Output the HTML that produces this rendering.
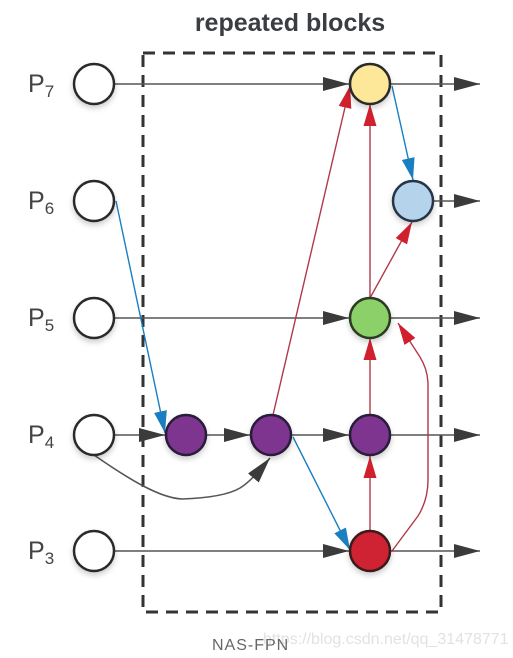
<!DOCTYPE html>
<html><head><meta charset="utf-8"><style>
html,body{margin:0;padding:0;background:#fff;}
svg{display:block;}
text{font-family:"Liberation Sans",sans-serif;}
</style></head><body>
<svg width="513" height="658" viewBox="0 0 513 658">
<defs>
<marker id="ak" viewBox="0 0 10 10" refX="10" refY="5" markerWidth="8" markerHeight="8" markerUnits="userSpaceOnUse" orient="auto"><path d="M0,0L10,5L0,10z" fill="#3b3b3b"/></marker>
<marker id="akb" viewBox="0 0 10 10" refX="10" refY="5" markerWidth="26" markerHeight="14" markerUnits="userSpaceOnUse" orient="auto" preserveAspectRatio="none"><path d="M0,0L10,5L0,10z" fill="#3b3b3b"/></marker>
<marker id="ar" viewBox="0 0 10 10" refX="10" refY="5" markerWidth="22" markerHeight="13" markerUnits="userSpaceOnUse" orient="auto" preserveAspectRatio="none"><path d="M0,0L10,5L0,10z" fill="#d0202e"/></marker>
<marker id="ab" viewBox="0 0 10 10" refX="10" refY="5" markerWidth="22" markerHeight="13" markerUnits="userSpaceOnUse" orient="auto" preserveAspectRatio="none"><path d="M0,0L10,5L0,10z" fill="#1a7fc0"/></marker>
<filter id="sh" x="-50%" y="-50%" width="200%" height="200%"><feDropShadow dx="0" dy="3" stdDeviation="3" flood-color="#000" flood-opacity="0.2"/></filter>
</defs>
<text x="290" y="31" font-size="25" font-weight="bold" fill="#3a3d42" text-anchor="middle">repeated blocks</text>
<rect x="143" y="53" width="298" height="559" fill="none" stroke="#333" stroke-width="3" stroke-dasharray="12,8"/>

<g stroke="#555" stroke-width="1.6" fill="none">
<line x1="114" y1="84" x2="349" y2="84" marker-end="url(#akb)"/>
<line x1="390" y1="84" x2="480" y2="84" marker-end="url(#akb)"/>
<line x1="433" y1="201" x2="480" y2="201" marker-end="url(#akb)"/>
<line x1="114" y1="318" x2="349" y2="318" marker-end="url(#akb)"/>
<line x1="390" y1="318" x2="480" y2="318" marker-end="url(#akb)"/>
<line x1="114" y1="435" x2="165" y2="435" marker-end="url(#akb)"/>
<line x1="206" y1="435" x2="250" y2="435" marker-end="url(#akb)"/>
<line x1="291" y1="435" x2="349" y2="435" marker-end="url(#akb)"/>
<line x1="390" y1="435" x2="480" y2="435" marker-end="url(#akb)"/>
<line x1="114" y1="551" x2="349" y2="551" marker-end="url(#akb)"/>
<line x1="390" y1="551" x2="480" y2="551" marker-end="url(#akb)"/>
<path d="M94,455 C130,480 160,498 182,499 C210,498 230,494 240,488 C250,482 260,470 270,458" marker-end="url(#akb)"/>
</g>
<g stroke="#b03a4a" stroke-width="1.4" fill="none">
<line x1="273" y1="415" x2="350" y2="86" marker-end="url(#ar)"/>
<line x1="370" y1="298" x2="370" y2="104" marker-end="url(#ar)"/>
<line x1="370" y1="298" x2="412" y2="222" marker-end="url(#ar)"/>
<line x1="370" y1="415" x2="370" y2="338" marker-end="url(#ar)"/>
<line x1="370" y1="531" x2="370" y2="456" marker-end="url(#ar)"/>
<path d="M392,551 L418,516 Q428,500 428,480 L428,385 Q428,370 420,357 L398,323" marker-end="url(#ar)"/>
</g>
<g stroke="#1a7fc0" stroke-width="1.4" fill="none">
<line x1="116" y1="201" x2="165" y2="433" marker-end="url(#ab)"/>
<line x1="392" y1="86" x2="413" y2="180" marker-end="url(#ab)"/>
<line x1="293" y1="437" x2="350" y2="550" marker-end="url(#ab)"/>
</g>

<g stroke="#2a2a2a" stroke-width="2.5" filter="url(#sh)">
<circle cx="94" cy="84" r="20" fill="#fff"/>
<circle cx="94" cy="201" r="20" fill="#fff"/>
<circle cx="94" cy="318" r="20" fill="#fff"/>
<circle cx="94" cy="435" r="20" fill="#fff"/>
<circle cx="94" cy="551" r="20" fill="#fff"/>
<circle cx="370" cy="84" r="20" fill="#fde89a"/>
<circle cx="413" cy="201" r="20" fill="#b6d3ec" stroke="#253545"/>
<circle cx="370" cy="318" r="20" fill="#8cd06a" stroke="#2a3a20"/>
<circle cx="186" cy="435" r="20" fill="#7e3590" stroke="#2a1a3a"/>
<circle cx="271" cy="435" r="20" fill="#7e3590" stroke="#2a1a3a"/>
<circle cx="370" cy="435" r="20" fill="#7e3590" stroke="#2a1a3a"/>
<circle cx="370" cy="551" r="20" fill="#cf2030" stroke="#3a1a1a"/>
</g>

<g fill="#444" font-size="25">
<text x="28" y="92">P<tspan font-size="17" dy="5">7</tspan></text>
<text x="28" y="209">P<tspan font-size="17" dy="5">6</tspan></text>
<text x="28" y="326">P<tspan font-size="17" dy="5">5</tspan></text>
<text x="28" y="443">P<tspan font-size="17" dy="5">4</tspan></text>
<text x="28" y="559">P<tspan font-size="17" dy="5">3</tspan></text>
</g>
<text x="263" y="318" font-size="0"> </text>
<text x="303" y="317" font-size="15" fill="#e6e6e6" transform="translate(0,0)"></text>
<text x="263" y="318" font-size="15" fill="#e4e4e4"></text>
<text x="263" y="644" font-size="16" fill="#e2e2e2">https://blog.csdn.net/qq_31478771</text>
<text x="212" y="650" font-size="16" fill="#666" letter-spacing="1">NAS-FPN</text>
</svg>
</body></html>
